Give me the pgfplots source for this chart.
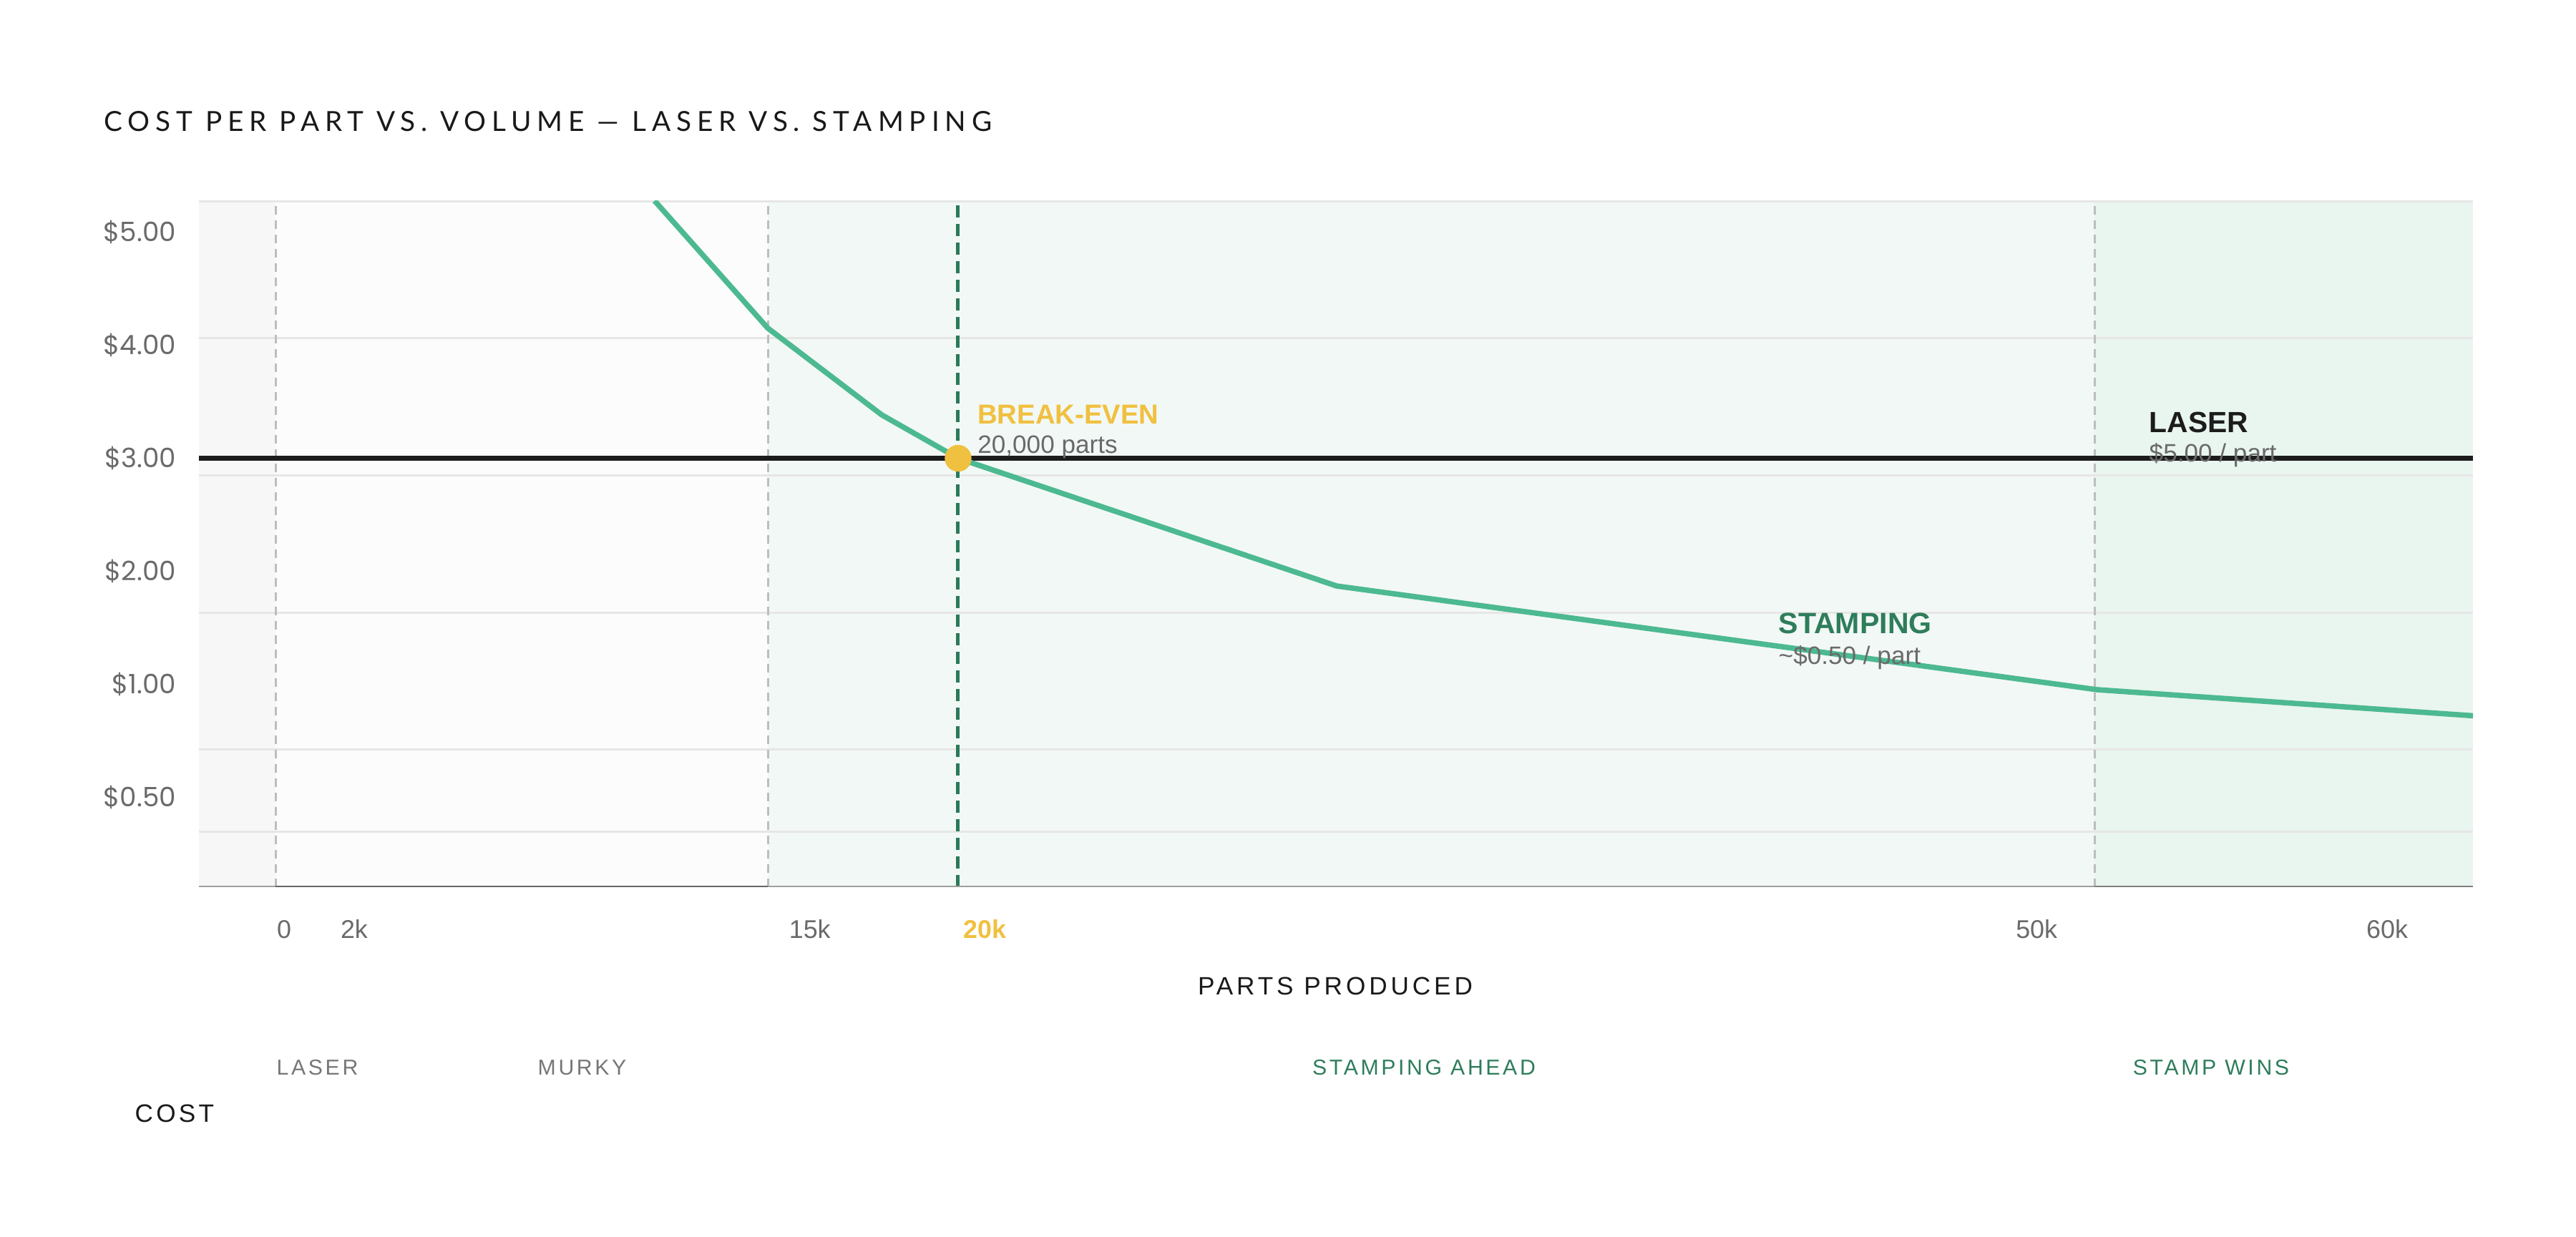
\documentclass[border=0pt]{standalone}
\usepackage{pgfplots}
\pgfplotsset{compat=1.18}
\usepackage{fontspec}
\setmainfont{Liberation Sans}
\newfontfamily\tickfont{Poppins}
\newfontfamily\spaced{Liberation Sans}[LetterSpace=12]
\newfontfamily\spacedwide{Liberation Sans}[LetterSpace=14]
\newfontfamily\titlefont{Lato}[LetterSpace=20.5]

\definecolor{stampgreen}{HTML}{4CB991}
\definecolor{darkgreen}{HTML}{2A7A5A}
\definecolor{labelgreen}{HTML}{2E7D5B}
\definecolor{gold}{HTML}{F0C040}
\definecolor{inkgray}{HTML}{6A6A6A}
\definecolor{softgray}{HTML}{777777}
\definecolor{gridgray}{HTML}{E6E6E6}
\definecolor{dashgray}{HTML}{BDBDBD}
\definecolor{laserink}{HTML}{1C1C1C}
\definecolor{bgA}{HTML}{F7F7F7}
\definecolor{bgB}{HTML}{FCFCFC}
\definecolor{bgC}{HTML}{F2F8F5}
\definecolor{bgD}{HTML}{E9F5EF}

\begin{document}
\begin{tikzpicture}
\path[use as bounding box, fill=white] (0,0) rectangle (36,17.28);

\begin{axis}[
    at={(2.78cm,4.885cm)}, anchor=south west,
    scale only axis,
    width=31.78cm, height=9.589cm,
    xmin=-2.43, xmax=62.45,
    ymin=-0.791, ymax=5.278,
    axis line style={draw=none},
    major tick length=0pt,
    xtick={0,2,15,20,50,60},
    xticklabels={0,2k,15k,\textbf{\textcolor{gold}{20k}},50k,60k},
    ytick={0,1,2,3,4,5},
    yticklabels={\$0.50,\$1.00,\$2.00,\$3.00,\$4.00,\$5.00},
    xticklabel style={font=\fontsize{10.2}{12}\selectfont, text=inkgray,
        anchor=base, inner sep=0pt, yshift=-7.15mm},
    yticklabel style={font=\tickfont\fontsize{10.6}{12}\selectfont, text=inkgray,
        anchor=base east, inner sep=0pt, xshift=-3.15mm, yshift=-1.3mm},
]

% zone shading
\fill[bgA] (axis cs:-2.43,-0.791) rectangle (axis cs:-0.245,5.278);
\fill[bgB] (axis cs:-0.245,-0.791) rectangle (axis cs:13.80,5.278);
\fill[bgC] (axis cs:13.80,-0.791) rectangle (axis cs:51.65,5.278);
\fill[bgD] (axis cs:51.65,-0.791) rectangle (axis cs:62.45,5.278);

% horizontal grid
\pgfplotsinvokeforeach{5.27,4.066,2.848,1.632,0.422,-0.304}{
    \draw[gridgray, line width=0.3mm] (axis cs:-2.43,#1) -- (axis cs:62.45,#1);
}

% zone borders
\pgfplotsinvokeforeach{-0.245,13.80,51.65}{
    \draw[dashgray, line width=0.3mm, dash pattern=on 1.2mm off 0.8mm]
        (axis cs:#1,-0.791) -- (axis cs:#1,5.278);
}
\draw[darkgreen, line width=0.5mm, dash pattern=on 1.7mm off 0.9mm]
    (axis cs:19.23,-0.791) -- (axis cs:19.23,5.278);

% baseline
\draw[black!38, line width=0.35mm] (axis cs:-2.43,-0.791) -- (axis cs:62.45,-0.791);
\draw[black!60, line width=0.35mm] (axis cs:-0.245,-0.791) -- (axis cs:13.80,-0.791);
\draw[black!50, line width=0.35mm] (axis cs:51.65,-0.791) -- (axis cs:62.45,-0.791);

% laser: flat cost
\addplot[laserink, line width=0.65mm] coordinates {(-2.43,3) (62.45,3)};

% stamping: falling cost
\addplot[stampgreen, line width=0.75mm, line join=round] coordinates {
    (10.57,5.278)
    (13.80,4.151)
    (17.05,3.384)
    (19.23,3.000)
    (30.03,1.870)
    (51.72,0.953)
    (62.45,0.722)
};

% break-even point
\addplot[only marks, mark=*, mark size=1.8mm, gold, mark options={draw=gold, fill=gold}]
    coordinates {(19.23,3.000)};
\end{axis}

% annotations
\node[anchor=base west, inner sep=0pt, text=gold, font=\bfseries\fontsize{10.9}{12}\selectfont]
    at (13.656,11.355) {BREAK-EVEN};
\node[anchor=base west, inner sep=0pt, text=inkgray, font=\fontsize{10}{12}\selectfont]
    at (13.656,10.94) {20,000 parts};
\node[anchor=base west, inner sep=0pt, text=laserink, font=\bfseries\fontsize{11.6}{13}\selectfont]
    at (30.03,11.236) {LASER};
\node[anchor=base west, inner sep=0pt, text=inkgray, font=\fontsize{10}{12}\selectfont]
    at (30.03,10.82) {\$5.00 / part};
\node[anchor=base west, inner sep=0pt, text=labelgreen, font=\bfseries\fontsize{11.7}{13}\selectfont]
    at (24.85,8.425) {STAMPING};
\node[anchor=base west, inner sep=0pt, text=inkgray, font=\fontsize{10}{12}\selectfont]
    at (24.85,8.00) {\textasciitilde\$0.50 / part};

% title and axis names
\node[anchor=base west, inner sep=0pt, text=black!90, font=\titlefont\fontsize{11}{13}\selectfont]
    at (1.45,15.44) {COST PER PART VS. VOLUME — LASER VS. STAMPING};
\node[anchor=base, inner sep=0pt, text=black!90, font=\spacedwide\fontsize{10}{12}\selectfont]
    at (18.66,3.38) {PARTS PRODUCED};
\node[anchor=base west, inner sep=0pt, text=black!90, font=\spaced\fontsize{10}{12}\selectfont]
    at (1.88,1.60) {COST};

% zone names
\node[anchor=base west, inner sep=0pt, text=softgray, font=\spaced\fontsize{8.6}{10}\selectfont]
    at (3.86,2.26) {LASER};
\node[anchor=base west, inner sep=0pt, text=softgray, font=\spaced\fontsize{8.6}{10}\selectfont]
    at (7.51,2.26) {MURKY};
\node[anchor=base, inner sep=0pt, text=labelgreen, font=\spaced\fontsize{8.6}{10}\selectfont]
    at (19.90,2.26) {STAMPING AHEAD};
\node[anchor=base, inner sep=0pt, text=labelgreen, font=\spaced\fontsize{8.6}{10}\selectfont]
    at (30.90,2.26) {STAMP WINS};
\end{tikzpicture}
\end{document}
